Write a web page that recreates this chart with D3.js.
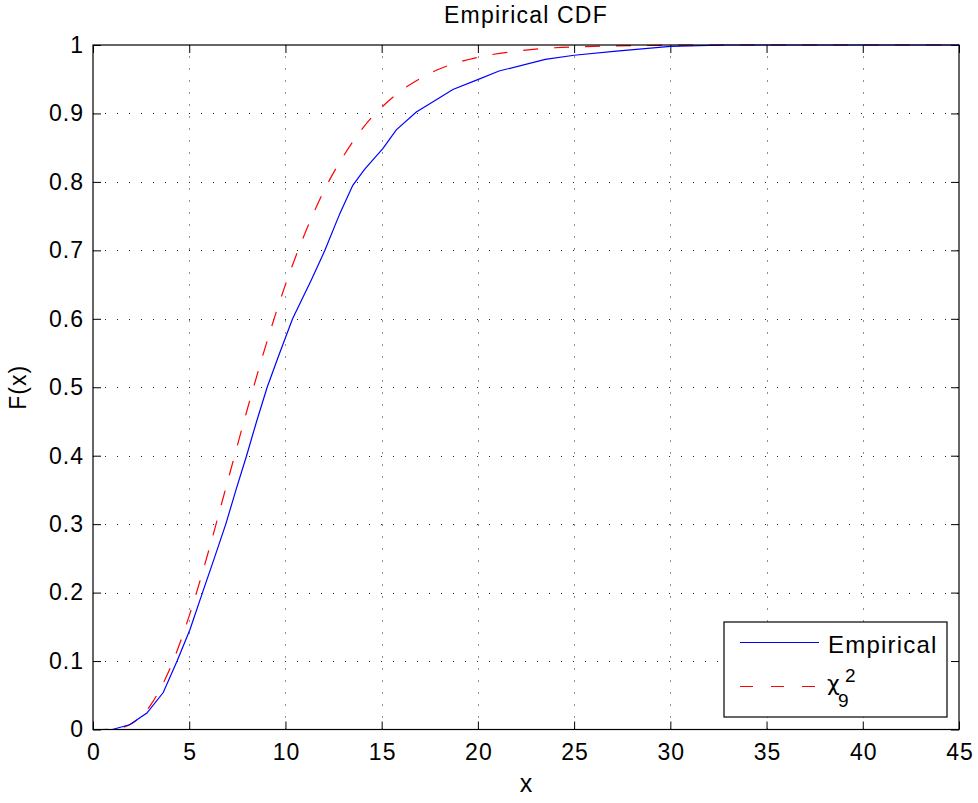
<!DOCTYPE html>
<html>
<head>
<meta charset="utf-8">
<script src="https://cdn.jsdelivr.net/npm/d3@7"></script>
<style>
  body { margin: 0; background: #fff; }
  svg { display: block; font-family: "Liberation Sans", Arial, sans-serif; }
</style>
</head>
<body>
<svg id="chart" width="978" height="803"></svg>
<script>
// empirical CDF
const empX = [0, 1.0, 1.9, 2.8, 3.65, 4.37, 5.04, 5.69, 6.3, 6.9, 7.43, 7.98, 8.5, 9.05, 9.7, 10.37,
  11.35, 12.05, 12.83, 13.5, 14.1, 14.6, 15.07, 15.76, 16.8, 17.67, 18.7, 19.96, 21.1, 23.5, 25, 27.2, 30, 33, 45];
const empF = [0, 0, 0.007, 0.024, 0.054, 0.1, 0.146, 0.2, 0.25, 0.3, 0.35, 0.4, 0.45, 0.5, 0.55, 0.6,
  0.657, 0.7, 0.754, 0.795, 0.818, 0.834, 0.849, 0.876, 0.902, 0.917, 0.935, 0.949, 0.962, 0.979, 0.985, 0.991, 0.998, 1, 1];

// chi-square (9) reference curve
const chiX = [0, 1, 2, 3, 4, 5, 6, 7, 8, 9, 10, 11, 12, 13, 14, 15, 16, 17, 18, 19, 20, 22, 24, 26, 28, 30, 33, 45];
const chiF = [0, 0.0006, 0.0085, 0.036, 0.089, 0.166, 0.26, 0.363, 0.466, 0.563, 0.65, 0.724, 0.787, 0.837,
  0.878, 0.909, 0.933, 0.951, 0.965, 0.975, 0.982, 0.991, 0.996, 0.998, 0.999, 0.9996, 1, 1];

const xTicks = [0, 5, 10, 15, 20, 25, 30, 35, 40, 45];
const yTicks = [0, 0.1, 0.2, 0.3, 0.4, 0.5, 0.6, 0.7, 0.8, 0.9, 1];
const yTickLabels = ['0', '0.1', '0.2', '0.3', '0.4', '0.5', '0.6', '0.7', '0.8', '0.9', '1'];

const LEFT = 93, RIGHT = 959, TOP = 45, BOTTOM = 729.5;

const svg = d3.select('#chart');
const x = d3.scaleLinear().domain([0, 45]).range([LEFT, RIGHT]);
const y = d3.scaleLinear().domain([0, 1]).range([BOTTOM, TOP]);

// grid
const grid = svg.append('g')
  .attr('stroke', '#222')
  .attr('stroke-width', 1)
  .attr('stroke-dasharray', '1,11');

grid.selectAll('.vg')
  .data(xTicks.slice(1, -1))
  .enter().append('line')
  .attr('x1', d => Math.round(x(d)) + 0.5).attr('x2', d => Math.round(x(d)) + 0.5)
  .attr('y1', BOTTOM).attr('y2', TOP);

grid.selectAll('.hg')
  .data(yTicks.slice(1, -1))
  .enter().append('line')
  .attr('y1', d => Math.round(y(d)) + 0.5).attr('y2', d => Math.round(y(d)) + 0.5)
  .attr('x1', LEFT).attr('x2', RIGHT);

// axes with inward ticks on all four sides
function styleAxis(g) {
  g.select('.domain').remove();
  g.selectAll('line').attr('stroke', '#000');
  g.selectAll('text')
    .attr('fill', '#000')
    .style('font-size', '23px')
    .style('letter-spacing', '1px');
}

svg.append('g')
  .attr('transform', `translate(0,${BOTTOM})`)
  .call(d3.axisBottom(x).tickValues(xTicks).tickSize(-8).tickPadding(14).tickFormat(d3.format('d')))
  .call(styleAxis)
  .selectAll('text').attr('dx', '0.5px');

svg.append('g')
  .attr('transform', `translate(0,${TOP})`)
  .call(d3.axisTop(x).tickValues(xTicks).tickSize(-8).tickFormat(''))
  .call(styleAxis);

svg.append('g')
  .attr('transform', `translate(${LEFT},0)`)
  .call(d3.axisLeft(y).tickValues(yTicks).tickSize(-8).tickPadding(9)
    .tickFormat((d, i) => yTickLabels[i]))
  .call(styleAxis);

svg.append('g')
  .attr('transform', `translate(${RIGHT},0)`)
  .call(d3.axisRight(y).tickValues(yTicks).tickSize(-8).tickFormat(''))
  .call(styleAxis);

// curves
const empLine = d3.line().x(d => x(d[0])).y(d => y(d[1]));
const chiLine = d3.line().x(d => x(d[0])).y(d => y(d[1])).curve(d3.curveMonotoneX);

svg.append('path')
  .datum(chiX.map((v, i) => [v, chiF[i]]))
  .attr('d', chiLine)
  .attr('fill', 'none')
  .attr('stroke', '#ff0000')
  .attr('stroke-width', 1.2)
  .attr('stroke-dasharray', '15,16');

svg.append('path')
  .datum(empX.map((v, i) => [v, empF[i]]))
  .attr('d', empLine)
  .attr('fill', 'none')
  .attr('stroke', '#0000ff')
  .attr('stroke-width', 1.2);

// axes box
svg.append('rect')
  .attr('x', LEFT).attr('y', TOP)
  .attr('width', RIGHT - LEFT).attr('height', BOTTOM - TOP)
  .attr('fill', 'none')
  .attr('stroke', '#000')
  .attr('stroke-width', 1.2);

// title and labels
svg.append('text')
  .attr('x', (LEFT + RIGHT) / 2).attr('y', 23)
  .attr('text-anchor', 'middle')
  .style('font-size', '23px').style('letter-spacing', '1.2px')
  .text('Empirical CDF');

svg.append('text')
  .attr('x', (LEFT + RIGHT) / 2).attr('y', 792)
  .attr('text-anchor', 'middle')
  .style('font-size', '25px')
  .text('x');

svg.append('text')
  .attr('transform', `translate(26,${(TOP + BOTTOM) / 2}) rotate(-90)`)
  .attr('text-anchor', 'middle')
  .style('font-size', '23px').style('letter-spacing', '1px')
  .text('F(x)');

// legend
const lg = svg.append('g');
lg.append('rect')
  .attr('x', 724).attr('y', 622)
  .attr('width', 223).attr('height', 95)
  .attr('fill', '#fff')
  .attr('stroke', '#000')
  .attr('stroke-width', 1.2);

lg.append('line')
  .attr('x1', 740).attr('x2', 819).attr('y1', 642.5).attr('y2', 642.5)
  .attr('stroke', '#0000ff').attr('stroke-width', 1.2);
lg.append('text')
  .attr('x', 828).attr('y', 653)
  .style('font-size', '24px').style('letter-spacing', '1.2px')
  .text('Empirical');

lg.append('line')
  .attr('x1', 740).attr('x2', 819).attr('y1', 686.5).attr('y2', 686.5)
  .attr('stroke', '#ff0000').attr('stroke-width', 1.2)
  .attr('stroke-dasharray', '13,18');
lg.append('text')
  .attr('x', 827).attr('y', 691)
  .style('font-family', '"DejaVu Sans", sans-serif')
  .style('font-size', '22px')
  .text('χ');
lg.append('text')
  .attr('x', 845).attr('y', 682)
  .style('font-size', '19px')
  .text('2');
lg.append('text')
  .attr('x', 838).attr('y', 707)
  .style('font-size', '19px')
  .text('9');
</script>
</body>
</html>
